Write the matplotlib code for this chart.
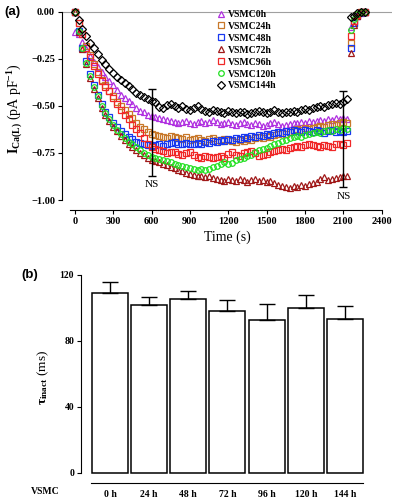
import numpy as np
import matplotlib
matplotlib.use('Agg')
import matplotlib.pyplot as plt

plt.rcParams['font.family'] = ['Liberation Serif', 'DejaVu Serif']
plt.rcParams['font.weight'] = 'bold'
plt.rcParams['mathtext.fontset'] = 'custom'
plt.rcParams['mathtext.rm'] = 'Liberation Serif:bold'
plt.rcParams['mathtext.it'] = 'Liberation Serif:bold'
plt.rcParams['mathtext.bf'] = 'Liberation Serif:bold'

# ---- panel (a) data: current density every 30 s, 0..2130 s
t = np.arange(0, 2131, 30)

vsmc0 = [-0.105, -0.12, -0.16, -0.20, -0.235, -0.265, -0.295, -0.32, -0.345, -0.37, -0.39, -0.415,
         -0.44, -0.46, -0.475, -0.49, -0.51, -0.525, -0.535, -0.55, -0.555, -0.56, -0.565, -0.57,
         -0.575, -0.58, -0.585, -0.59, -0.585, -0.58, -0.59, -0.595, -0.585, -0.58, -0.59, -0.585,
         -0.575, -0.585, -0.595, -0.59, -0.585, -0.595, -0.60, -0.59, -0.585, -0.595, -0.60, -0.59,
         -0.595, -0.605, -0.60, -0.59, -0.585, -0.595, -0.605, -0.60, -0.595, -0.59, -0.59, -0.585,
         -0.59, -0.58, -0.585, -0.58, -0.575, -0.58, -0.57, -0.575, -0.565, -0.57, -0.565, -0.57]
vsmc24 = [0.0, -0.06, -0.12, -0.18, -0.23, -0.28, -0.32, -0.36, -0.39, -0.42, -0.45, -0.48,
          -0.50, -0.52, -0.545, -0.565, -0.59, -0.61, -0.625, -0.64, -0.65, -0.655, -0.66, -0.665,
          -0.67, -0.66, -0.665, -0.67, -0.675, -0.665, -0.68, -0.675, -0.67, -0.68, -0.685, -0.675,
          -0.67, -0.68, -0.685, -0.675, -0.68, -0.685, -0.69, -0.68, -0.685, -0.675, -0.68, -0.67,
          -0.665, -0.67, -0.66, -0.665, -0.655, -0.65, -0.645, -0.65, -0.64, -0.635, -0.625, -0.63,
          -0.62, -0.625, -0.615, -0.61, -0.605, -0.61, -0.60, -0.595, -0.60, -0.59, -0.585, -0.59]
vsmc48 = [0.0, -0.10, -0.19, -0.26, -0.33, -0.39, -0.44, -0.49, -0.53, -0.56, -0.59, -0.61,
          -0.635, -0.65, -0.665, -0.675, -0.69, -0.695, -0.70, -0.71, -0.715, -0.71, -0.705, -0.715,
          -0.70, -0.695, -0.69, -0.70, -0.705, -0.695, -0.70, -0.705, -0.695, -0.70, -0.69, -0.695,
          -0.685, -0.69, -0.68, -0.685, -0.675, -0.68, -0.67, -0.675, -0.665, -0.67, -0.66, -0.665,
          -0.655, -0.66, -0.65, -0.655, -0.645, -0.64, -0.645, -0.635, -0.64, -0.63, -0.635, -0.64,
          -0.63, -0.635, -0.64, -0.63, -0.635, -0.645, -0.635, -0.63, -0.64, -0.635, -0.64, -0.635]
vsmc72 = [0.0, -0.11, -0.20, -0.28, -0.35, -0.41, -0.46, -0.51, -0.55, -0.58, -0.61, -0.635,
          -0.66, -0.68, -0.70, -0.72, -0.735, -0.75, -0.76, -0.775, -0.785, -0.795, -0.80, -0.81,
          -0.815, -0.825, -0.83, -0.84, -0.845, -0.855, -0.86, -0.865, -0.87, -0.875, -0.88, -0.875,
          -0.885, -0.89, -0.895, -0.90, -0.89, -0.895, -0.90, -0.89, -0.895, -0.905, -0.895, -0.89,
          -0.90, -0.895, -0.905, -0.90, -0.91, -0.92, -0.925, -0.93, -0.935, -0.925, -0.93, -0.92,
          -0.925, -0.915, -0.91, -0.905, -0.89, -0.88, -0.895, -0.89, -0.885, -0.88, -0.87, -0.875]
vsmc96 = [0.0, -0.06, -0.12, -0.19, -0.24, -0.29, -0.33, -0.37, -0.40, -0.42, -0.46, -0.49,
          -0.52, -0.55, -0.57, -0.60, -0.625, -0.645, -0.67, -0.70, -0.72, -0.73, -0.735, -0.74,
          -0.75, -0.745, -0.745, -0.755, -0.76, -0.75, -0.745, -0.76, -0.77, -0.775, -0.765, -0.77,
          -0.775, -0.77, -0.765, -0.775, -0.755, -0.745, -0.76, -0.765, -0.75, -0.745, -0.74, -0.75,
          -0.765, -0.76, -0.755, -0.745, -0.74, -0.735, -0.73, -0.735, -0.725, -0.72, -0.715, -0.72,
          -0.71, -0.705, -0.71, -0.715, -0.72, -0.71, -0.715, -0.72, -0.705, -0.70, -0.71, -0.695]
vsmc120 = [0.0, -0.10, -0.19, -0.27, -0.34, -0.40, -0.45, -0.50, -0.54, -0.57, -0.60, -0.63,
           -0.65, -0.67, -0.69, -0.705, -0.72, -0.735, -0.75, -0.76, -0.77, -0.775, -0.78, -0.79,
           -0.795, -0.80, -0.81, -0.815, -0.82, -0.825, -0.83, -0.835, -0.84, -0.835, -0.84, -0.835,
           -0.825, -0.82, -0.81, -0.80, -0.81, -0.805, -0.79, -0.78, -0.775, -0.765, -0.76, -0.745,
           -0.735, -0.73, -0.725, -0.715, -0.70, -0.695, -0.685, -0.68, -0.67, -0.665, -0.66, -0.665,
           -0.655, -0.65, -0.645, -0.64, -0.645, -0.635, -0.63, -0.635, -0.625, -0.63, -0.62, -0.625]
vsmc144 = [0.0, -0.045, -0.09, -0.13, -0.165, -0.195, -0.225, -0.255, -0.28, -0.305, -0.325, -0.345,
           -0.36, -0.38, -0.395, -0.41, -0.43, -0.44, -0.455, -0.465, -0.475, -0.48, -0.505, -0.51,
           -0.495, -0.49, -0.50, -0.51, -0.50, -0.515, -0.52, -0.51, -0.50, -0.515, -0.525, -0.53,
           -0.52, -0.525, -0.535, -0.54, -0.525, -0.53, -0.54, -0.535, -0.53, -0.545, -0.54, -0.53,
           -0.525, -0.535, -0.54, -0.53, -0.52, -0.535, -0.54, -0.535, -0.53, -0.525, -0.53, -0.52,
           -0.515, -0.52, -0.51, -0.505, -0.50, -0.505, -0.495, -0.49, -0.485, -0.49, -0.48, -0.465]

# recovery after washout
t_rec = [2160, 2185, 2210, 2240, 2270]
rec0 = [-0.08, -0.03, -0.01, 0.0, 0.0]
rec24 = [-0.165, -0.06, -0.02, 0.0, 0.0]
rec48 = [-0.19, -0.06, -0.02, -0.005, 0.0]
rec72 = [-0.22, -0.07, -0.02, 0.0, 0.0]
rec96 = [-0.13, -0.05, -0.015, 0.0, 0.0]
rec120 = [-0.095, -0.04, -0.01, 0.0, 0.0]
rec144 = [-0.03, -0.02, -0.005, 0.0, 0.0]

labels = ['VSMC0h', 'VSMC24h', 'VSMC48h', 'VSMC72h', 'VSMC96h', 'VSMC120h', 'VSMC144h']
err_t = [600, 2100]
err_mean = [-0.64, -0.675]
err_sd = [0.23, 0.255]

# ---- panel (b) data
groups = ['0 h', '24 h', '48 h', '72 h', '96 h', '120 h', '144 h']
tau = [109, 101.5, 105.3, 98.4, 92.5, 99.8, 93.1]
tau_err = [6.5, 5.0, 4.7, 6.3, 10.0, 8.3, 7.9]

series = [vsmc0, vsmc24, vsmc48, vsmc72, vsmc96, vsmc120, vsmc144]
recs = [rec0, rec24, rec48, rec72, rec96, rec120, rec144]
colors = ['#B030E0', '#C8782A', '#1838F0', '#A01818', '#F02828', '#20E020', '#000000']
markers = ['^', 's', 's', '^', 's', 'o', 'D']

fig = plt.figure(figsize=(3.96, 5.0), dpi=100)

ax1 = fig.add_axes([62/396, 1-210/500, 330/396, 202/500])
ax1.axhline(0, color='#a0a0a0', lw=0.8, zorder=0)
for y, r, c, m, lab in zip(series, recs, colors, markers, labels):
    ms = 3.6 if m == 'D' else 4.0
    ax1.plot(t, y, ls='none', marker=m, ms=ms, mfc='none', mec=c, mew=0.9, label=lab)
    ax1.plot(t_rec, r, ls='none', marker=m, ms=ms, mfc='none', mec=c, mew=0.9)
ax1.errorbar(err_t, err_mean, yerr=err_sd, fmt='none', ecolor='black', elinewidth=1.0,
             capsize=3, capthick=1.0, zorder=5)
for x, m, s in zip(err_t, err_mean, err_sd):
    ax1.text(x, m - s - 0.025, 'NS', ha='center', va='top', fontsize=8, fontweight='normal')

ax1.set_xlim(-100, 2480)
ax1.set_ylim(-1.053, 0.02)
ax1.spines['top'].set_visible(False)
ax1.spines['right'].set_visible(False)
ax1.spines['left'].set_bounds(-1, 0)
ax1.spines['bottom'].set_bounds(-40, 2400)
ax1.set_xticks(np.arange(0, 2401, 300))
ax1.set_yticks([-1.0, -0.75, -0.5, -0.25, 0.0])
ax1.set_yticklabels(['\u22121.00', '\u22120.75', '\u22120.50', '\u22120.25', '0.00'])
ax1.tick_params(labelsize=7.5, length=3, width=0.8, direction='out', pad=2)
ax1.set_xlabel('Time (s)', fontsize=10, labelpad=3)
ax1.set_ylabel(r'$\mathrm{I_{Ca(L)}}$ (pA pF$^{\mathrm{-1}}$)', fontsize=10, labelpad=4)
ax1.legend(loc='upper left', bbox_to_anchor=(0.465, 1.0), frameon=False, fontsize=7,
           handlelength=0.8, handletextpad=0.3, labelspacing=0.3, borderpad=0.2,
           borderaxespad=0)
fig.text(12/396, 1-12/500, '(a)', fontsize=9.5, fontweight='bold', family='Liberation Sans',
         ha='center', va='center')

ax2 = fig.add_axes([81/396, 1-483/500, 289/396, 211/500])
pos = np.arange(len(groups))
ax2.bar(pos, tau, width=0.92, color='white', edgecolor='black', linewidth=1.1,
        yerr=[[0] * len(tau), tau_err], capsize=6,
        error_kw=dict(elinewidth=1.0, capthick=1.0, ecolor='black'))
ax2.set_xlim(-0.74, 6.64)
ax2.set_ylim(-6.06, 121.8)
ax2.spines['top'].set_visible(False)
ax2.spines['right'].set_visible(False)
ax2.spines['left'].set_bounds(0, 120)
ax2.spines['bottom'].set_bounds(-0.485, 6.46)
ax2.set_yticks([0, 40, 80, 120])
ax2.set_xticks(pos)
ax2.set_xticklabels(groups)
ax2.tick_params(axis='y', labelsize=7, length=3, width=0.8, pad=2)
ax2.tick_params(axis='x', labelsize=7, length=0, pad=5)
ax2.set_ylabel(r'$\mathrm{\tau_{inact}}$ (ms)', fontsize=9.5, labelpad=6)
fig.text(45/396, 1-492/500, 'VSMC', fontsize=7, fontweight='bold', ha='center', va='center')
fig.text(30/396, 1-275/500, '(b)', fontsize=9.5, fontweight='bold', family='Liberation Sans',
         ha='center', va='center')

fig.savefig('out.png', dpi=100)
